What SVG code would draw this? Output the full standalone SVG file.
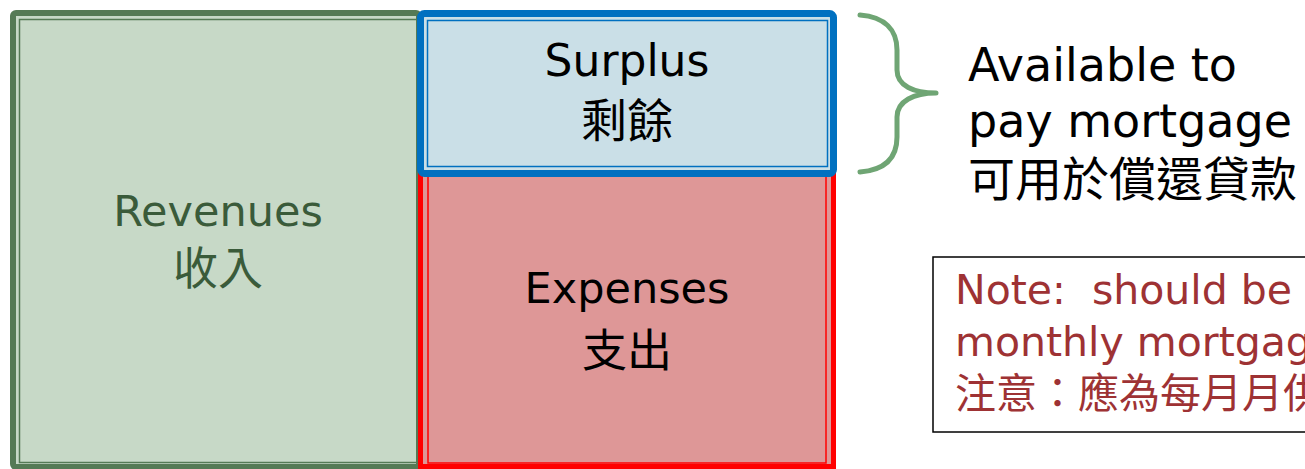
<svg xmlns="http://www.w3.org/2000/svg" width="1305" height="469" viewBox="0 0 1305 469">
<style>
.t{font-family:"DejaVu Sans","Noto Sans CJK TC",sans-serif;text-anchor:middle}
.c{font-family:"Noto Sans CJK TC","DejaVu Sans",sans-serif}
</style>
<rect width="1305" height="469" fill="#FFFFFF"/>
<g id="revenues">
<rect x="13" y="13" width="406" height="454" rx="3" fill="#C7D9C7" stroke="#557A55" stroke-width="6"/>
<rect x="19.5" y="19.5" width="400" height="443" fill="none" stroke="#557A55" stroke-width="1.5"/>
<text class="t" x="218" y="226" font-size="43" fill="#3A5B3A">Revenues</text>
<text class="t c" x="218" y="285" font-size="45" fill="#3A5B3A" text-anchor="middle">收入</text>
</g>
<g id="expenses">
<rect x="420.5" y="170" width="413" height="296.5" fill="#DE9797" stroke="#FF0000" stroke-width="5"/>
<rect x="428" y="175" width="398" height="288" fill="none" stroke="#FF0000" stroke-width="1.5"/>
<text class="t" x="627" y="303" font-size="43" fill="#000000">Expenses</text>
<text class="t c" x="627" y="367" font-size="45" fill="#000000" text-anchor="middle">支出</text>
</g>
<g id="surplus">
<rect x="420.5" y="13.5" width="413" height="160" rx="4" fill="#CADFE7" stroke="#0070C0" stroke-width="7"/>
<rect x="427.5" y="20.5" width="400" height="146" fill="none" stroke="#0070C0" stroke-width="1.5"/>
<text class="t" x="627" y="76" font-size="44" fill="#000000">Surplus</text>
<text class="t c" x="627" y="137" font-size="46" fill="#000000" text-anchor="middle">剩餘</text>
</g>
<g id="connectors">
<path d="M860,15 C885,17 897,30 897,50 L897,70 C897,86 914,93 936,93 C914,93 897,101 897,117 L897,137 C897,158 885,170 860,172" fill="none" stroke="#6FA574" stroke-width="5" stroke-linecap="round" stroke-linejoin="round"/>
</g>
<g id="available">
<text x="968" y="81" font-size="46" font-family="DejaVu Sans, sans-serif" fill="#000000">Available to</text>
<text x="968" y="137" font-size="46" font-family="DejaVu Sans, sans-serif" fill="#000000">pay mortgage</text>
<text x="968" y="196" font-size="47" class="c" fill="#000000">可用於償還貸款</text>
</g>
<g id="note">
<rect x="933" y="257" width="400" height="175" fill="#FFFFFF" stroke="#000000" stroke-width="1.5"/>
<text x="955" y="304" font-size="41" font-family="DejaVu Sans, sans-serif" fill="#9E3234" xml:space="preserve">Note:  should be</text>
<text x="955" y="356" font-size="41" font-family="DejaVu Sans, sans-serif" fill="#9E3234">monthly mortgage</text>
<text x="955" y="408" font-size="41" class="c" fill="#9E3234">注意：應為每月月供</text>
</g>
</svg>
